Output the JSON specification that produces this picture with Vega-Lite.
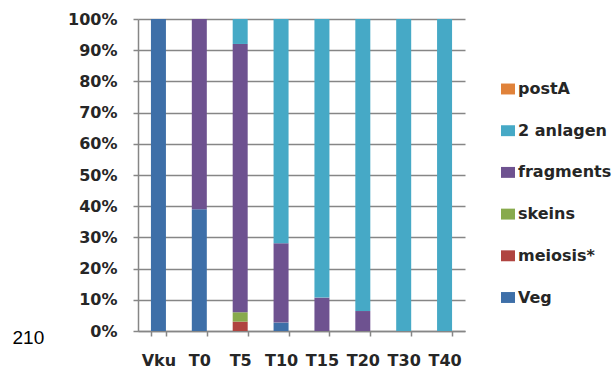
{
  "$schema": "https://vega.github.io/schema/vega-lite/v6.json",
  "width": 327,
  "height": 312,
  "autosize": {"type": "none"},
  "padding": {"left": 138, "top": 19, "right": 149, "bottom": 38},
  "background": "white",
  "datasets": {
    "stages": [
      {"stage": "Veg", "stackRank": 1},
      {"stage": "meiosis*", "stackRank": 2},
      {"stage": "skeins", "stackRank": 3},
      {"stage": "fragments", "stackRank": 4},
      {"stage": "2 anlagen", "stackRank": 5},
      {"stage": "postA", "stackRank": 6}
    ]
  },
  "data": {
    "values": [
      {"sample": "Vku", "stage": "Veg", "pct": 100},
      {"sample": "T0", "stage": "Veg", "pct": 39},
      {"sample": "T0", "stage": "fragments", "pct": 61},
      {"sample": "T5", "stage": "meiosis*", "pct": 3},
      {"sample": "T5", "stage": "skeins", "pct": 3},
      {"sample": "T5", "stage": "fragments", "pct": 86},
      {"sample": "T5", "stage": "2 anlagen", "pct": 8},
      {"sample": "T10", "stage": "Veg", "pct": 2.7},
      {"sample": "T10", "stage": "fragments", "pct": 25.4},
      {"sample": "T10", "stage": "2 anlagen", "pct": 71.9},
      {"sample": "T15", "stage": "fragments", "pct": 10.7},
      {"sample": "T15", "stage": "2 anlagen", "pct": 89.3},
      {"sample": "T20", "stage": "fragments", "pct": 6.4},
      {"sample": "T20", "stage": "2 anlagen", "pct": 93.6},
      {"sample": "T30", "stage": "2 anlagen", "pct": 100},
      {"sample": "T40", "stage": "2 anlagen", "pct": 100}
    ]
  },
  "transform": [
    {"lookup": "stage", "from": {"data": {"name": "stages"}, "key": "stage", "fields": ["stackRank"]}}
  ],
  "mark": {"type": "bar", "size": 15},
  "encoding": {
    "x": {
      "field": "sample",
      "type": "nominal",
      "sort": ["Vku", "T0", "T5", "T10", "T15", "T20", "T30", "T40"],
      "scale": {"paddingInner": 0.63, "paddingOuter": 0.315},
      "axis": {
        "title": null,
        "labelAngle": 0,
        "labelFont": "DejaVu Sans",
        "labelFontSize": 16,
        "labelFontWeight": "bold",
        "labelColor": "#262626",
        "labelPadding": 16,
        "tickBand": "extent",
        "tickSize": 5,
        "tickColor": "#868686",
        "tickWidth": 1.5,
        "domainColor": "#868686",
        "domainWidth": 1.5
      }
    },
    "y": {
      "field": "pct",
      "type": "quantitative",
      "stack": "normalize",
      "scale": {"domain": [0, 1]},
      "axis": {
        "title": "210",
        "titleAngle": 0,
        "titleX": -126,
        "titleY": 318,
        "titleAlign": "left",
        "titleBaseline": "middle",
        "titleFont": "Liberation Sans",
        "titleFontWeight": "normal",
        "titleFontSize": 19,
        "titleColor": "#000000",
        "format": "%",
        "values": [0, 0.1, 0.2, 0.3, 0.4, 0.5, 0.6, 0.7, 0.8, 0.9, 1],
        "labelOverlap": false,
        "labelFont": "DejaVu Sans",
        "labelFontSize": 16,
        "labelFontWeight": "bold",
        "labelColor": "#262626",
        "labelPadding": 16,
        "tickSize": 5,
        "tickColor": "#868686",
        "tickWidth": 1.5,
        "grid": true,
        "gridColor": "#868686",
        "gridWidth": 1.5,
        "domainColor": "#868686",
        "domainWidth": 1.5
      }
    },
    "order": {"field": "stackRank", "type": "quantitative", "sort": "ascending"},
    "color": {
      "field": "stage",
      "type": "nominal",
      "scale": {
        "domain": ["postA", "2 anlagen", "fragments", "skeins", "meiosis*", "Veg"],
        "range": ["#E0823A", "#46A9C6", "#6E5290", "#88AA4C", "#B04440", "#3E6FA8"]
      },
      "legend": {
        "title": null,
        "orient": "none",
        "legendX": 362,
        "legendY": 62,
        "symbolType": "M-1,-0.78H1V0.78H-1Z",
        "symbolSize": 196,
        "symbolStrokeWidth": 0,
        "labelFont": "DejaVu Sans",
        "labelFontSize": 16,
        "labelFontWeight": "bold",
        "labelColor": "#262626",
        "labelOffset": 2,
        "rowPadding": 25.7
      }
    }
  },
  "config": {"view": {"stroke": null}}
}
